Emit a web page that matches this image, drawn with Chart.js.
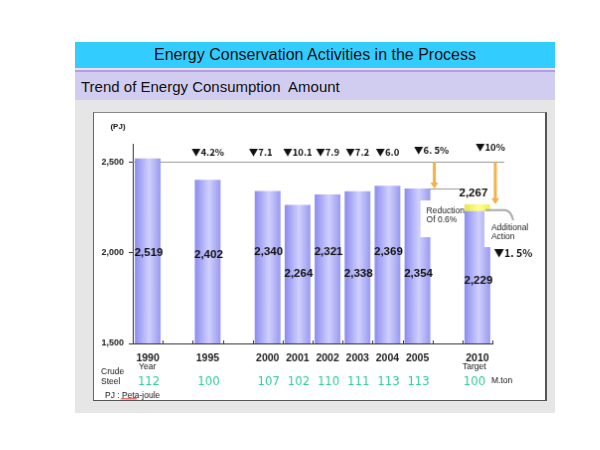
<!DOCTYPE html>
<html>
<head>
<meta charset="utf-8">
<script src="https://cdn.jsdelivr.net/npm/chart.js@4/dist/chart.umd.min.js"></script>
<style>
  body { margin: 0; background: #fff; width: 600px; height: 450px; position: relative; font-family: "Liberation Sans", Arial, sans-serif; }
  #head { position: absolute; left: 75px; top: 42px; width: 480px; height: 26px; background: #33ccff;
          text-align: center; font-size: 16px; line-height: 26px; color: #111; }
  #strip { position: absolute; left: 75px; top: 68px; width: 480px; height: 2px; background: #e4e4e4; }
  #purple { position: absolute; left: 75px; top: 70px; width: 480px; height: 2px; background: #b89ae6; }
  #sub { position: absolute; left: 75px; top: 72px; width: 480px; height: 28px; background: #d0cdf0;
         font-size: 15px; line-height: 30px; color: #111; text-indent: 6px; }
  #panel { position: absolute; left: 75px; top: 100px; width: 480px; height: 313px; background: #e6e6e6; }
  #chart { position: absolute; left: 93px; top: 112px; background: #fff;
           border-top: 1px solid #888; border-left: 1px solid #666; border-right: 2px solid #555; border-bottom: 1px solid #555; }
</style>
</head>
<body>
<div id="head">Energy Conservation Activities in the Process</div>
<div id="strip"></div>
<div id="purple"></div>
<div id="sub">Trend of Energy Consumption&nbsp; Amount</div>
<div id="panel"></div>
<canvas id="chart" width="454" height="289"></canvas>
<script>
// Data
const years = ['1990', '', '1995', '', '2000', '2001', '2002', '2003', '2004', '2005', '', '2010'];
const energyPJ = [2519, null, 2402, null, 2340, 2264, 2321, 2338, 2369, 2354, null, 2229];
const additionalPJ = [null, null, null, null, null, null, null, null, null, null, null, [2229, 2267]];
const reductionLabels = [null, null, '▼4.2%', null, '▼7.1', '▼10.1', '▼7.9', '▼7.2', '▼6.0', '▼6. 5%', null, '▼10%'];
const crudeSteel = [112, null, 100, null, 107, 102, 110, 111, 113, 113, null, 100];
const yTicks = [1500, 2000, 2500];
const referenceLevel = 2500;
const targetLevel = 2267;

const numFont = '"Liberation Sans", Arial, "DejaVu Sans", sans-serif';
const jpFont = '"Noto Sans CJK JP", "Liberation Sans", sans-serif';

function barGradient(ctx, colors) {
    const chart = ctx.chart;
    const xs = chart.scales.x;
    if (!xs || !chart.chartArea) return colors[1];
    const cx = xs.getPixelForValue(ctx.dataIndex);
    const w = (xs.right - xs.left) / years.length * 0.86;
    const g = chart.ctx.createLinearGradient(cx - w / 2, 0, cx + w / 2, 0);
    g.addColorStop(0, colors[0]);
    g.addColorStop(0.55, colors[1]);
    g.addColorStop(1, colors[2]);
    return g;
}

// annotations drawn on top of the chart
const annotations = {
    id: 'annotations',
    beforeDatasetsDraw(chart) {
        const { ctx, scales: { x, y } } = chart;
        ctx.save();
        ctx.strokeStyle = '#9a9a9a';
        ctx.lineWidth = 1;
        ctx.beginPath();
        ctx.moveTo(x.left, Math.round(y.getPixelForValue(referenceLevel)) + 0.5);
        ctx.lineTo(x.right + 12, Math.round(y.getPixelForValue(referenceLevel)) + 0.5);
        ctx.stroke();
        ctx.restore();
    },
    afterDatasetsDraw(chart) {
        const { ctx, scales: { x, y } } = chart;
        const slot = (x.right - x.left) / years.length;
        ctx.save();

        // small ticks on the category axis
        ctx.strokeStyle = '#333';
        ctx.lineWidth = 1;
        for (let i = 1; i <= years.length; i++) {
            const px = Math.round(x.left + i * slot) + 0.5;
            ctx.beginPath();
            ctx.moveTo(px, y.bottom);
            ctx.lineTo(px, y.bottom - 3);
            ctx.stroke();
        }

        // value labels inside the bars
        const levels = [2000, null, 1988, null, 2002, 1882, 2007, 1882, 2007, 1882, null, 1845];
        ctx.fillStyle = '#111';
        ctx.font = 'bold 11.5px ' + numFont;
        ctx.textAlign = 'center';
        ctx.textBaseline = 'middle';
        energyPJ.forEach((v, i) => {
            if (v == null) return;
            ctx.fillText(v.toLocaleString('en-US'), x.getPixelForValue(i) + 1, y.getPixelForValue(levels[i]));
        });

        // reduction rates along the top
        const dx = { 4: -7, 9: 14, 11: 13 };
        const dy = { 9: -2, 11: -5 };
        ctx.font = 'bold 9.5px ' + jpFont;
        reductionLabels.forEach((t, i) => {
            if (!t) return;
            ctx.fillText(t, x.getPixelForValue(i) + (dx[i] || 0), 39 + (dy[i] || 0));
        });

        const c2005 = x.getPixelForValue(9);
        const c2010 = x.getPixelForValue(11);
        const yRef = y.getPixelForValue(referenceLevel);
        const y2005 = y.getPixelForValue(energyPJ[9]);
        const yTarget = y.getPixelForValue(targetLevel);

        // level line from the 2005 bar
        ctx.strokeStyle = '#9a9a9a';
        ctx.beginPath();
        ctx.moveTo(c2005 + 12, Math.round(y2005) + 0.5);
        ctx.lineTo(c2005 + 48, Math.round(y2005) + 0.5);
        ctx.stroke();

        // reduction box
        ctx.fillStyle = '#fff';
        ctx.fillRect(c2005 + 3, 88, 44, 37);
        ctx.fillStyle = '#222';
        ctx.font = '8.5px ' + numFont;
        ctx.textAlign = 'left';
        ctx.fillText('Reduction', c2005 + 9, 99);
        ctx.fillText('Of 0.6%', c2005 + 9, 108);

        // additional action box and callout
        ctx.fillStyle = '#fff';
        ctx.fillRect(c2010 + 7, 99, 48, 36);
        ctx.strokeStyle = '#aaa';
        ctx.lineWidth = 2;
        ctx.beginPath();
        ctx.moveTo(c2010 + 8, yTarget + 6);
        ctx.lineTo(c2010 + 28, yTarget + 6);
        ctx.quadraticCurveTo(c2010 + 34, yTarget + 7, c2010 + 36, yTarget + 16);
        ctx.stroke();
        ctx.fillStyle = '#222';
        ctx.fillText('Additional', c2010 + 14, 116);
        ctx.fillText('Action', c2010 + 14, 125);

        // orange arrows
        ctx.strokeStyle = '#f5b04a';
        ctx.fillStyle = '#f5b04a';
        ctx.lineWidth = 3;
        [[c2005 + 17, y2005], [c2010 + 18, yTarget]].forEach(([ax, ay]) => {
            ctx.beginPath();
            ctx.moveTo(ax, yRef);
            ctx.lineTo(ax, ay - 5);
            ctx.stroke();
            ctx.beginPath();
            ctx.moveTo(ax - 4, ay - 6);
            ctx.lineTo(ax + 4, ay - 6);
            ctx.lineTo(ax, ay);
            ctx.closePath();
            ctx.fill();
        });

        ctx.fillStyle = '#111';
        ctx.textAlign = 'center';
        ctx.font = 'bold 11.5px ' + numFont;
        ctx.fillText(targetLevel.toLocaleString('en-US'), c2010 - 4, 81);
        ctx.font = 'bold 10.5px ' + jpFont;
        ctx.fillText('▼1. 5%', c2010 + 36, 141);

        // unit and side texts
        ctx.font = 'bold 8px ' + numFont;
        ctx.fillText('(PJ)', 24, 14);
        ctx.font = '8.5px ' + numFont;
        ctx.textAlign = 'left';
        ctx.fillText('Year', x.getPixelForValue(0) - 9, 256);
        ctx.fillText('Target', c2010 - 15, 256);
        ctx.fillText('Crude', 7, 261);
        ctx.fillText('Steel', 7, 271);
        ctx.fillText('M.ton', c2010 + 14, 270);
        ctx.fillText('PJ : Peta-joule', 11, 285);

        // spell-check squiggle under "Peta"
        ctx.strokeStyle = '#e03030';
        ctx.lineWidth = 0.8;
        ctx.beginPath();
        for (let i = 0; i <= 16; i++) {
            const px = 27 + i;
            const py = 290 - (i % 2 ? 1.5 : 0) - 1.5;
            i === 0 ? ctx.moveTo(px, py) : ctx.lineTo(px, py);
        }
        ctx.stroke();

        // crude steel production
        ctx.fillStyle = '#2ec99a';
        ctx.font = '13px "Liberation Sans Narrow", "DejaVu Sans Condensed", sans-serif';
        ctx.textAlign = 'center';
        crudeSteel.forEach((v, i) => {
            if (v == null) return;
            ctx.fillText(String(v), x.getPixelForValue(i) + (i === 11 ? -3 : 1), 271);
        });

        ctx.restore();
    }
};

const chart = new Chart(document.getElementById('chart'), {
    type: 'bar',
    data: {
        labels: years,
        datasets: [{
            data: energyPJ,
            backgroundColor: c => barGradient(c, ['#8c8cee', '#d0d0ff', '#9a9af0']),
            barPercentage: 0.86,
            categoryPercentage: 1
        }, {
            data: additionalPJ,
            backgroundColor: c => barGradient(c, ['#e6e650', '#ffff90', '#eeee5a']),
            barPercentage: 0.86,
            categoryPercentage: 1
        }]
    },
    options: {
        responsive: false,
        animation: false,
        layout: { padding: { top: 31, right: 53, left: 0, bottom: 0 } },
        plugins: { legend: { display: false }, tooltip: { enabled: false } },
        scales: {
            x: {
                stacked: true,
                grid: { display: false },
                border: { color: '#333' },
                ticks: {
                    color: '#222',
                    font: { family: numFont, size: 10.5, weight: 'bold' },
                    padding: 1,
                    maxRotation: 0,
                    autoSkip: false
                },
                afterFit: s => { s.height = 57; }
            },
            y: {
                min: 1500,
                max: 2600,
                grid: { drawOnChartArea: false, tickLength: 4, color: '#333' },
                border: { color: '#333' },
                afterBuildTicks: s => { s.ticks = yTicks.map(v => ({ value: v })); },
                ticks: {
                    color: '#222',
                    font: { family: numFont, size: 9, weight: 'bold' },
                    padding: 5
                },
                afterFit: s => { s.width = 39; }
            }
        }
    },
    plugins: [annotations]
});
// second pass so the bar gradients know where the bars are
chart.update();
</script>
</body>
</html>
